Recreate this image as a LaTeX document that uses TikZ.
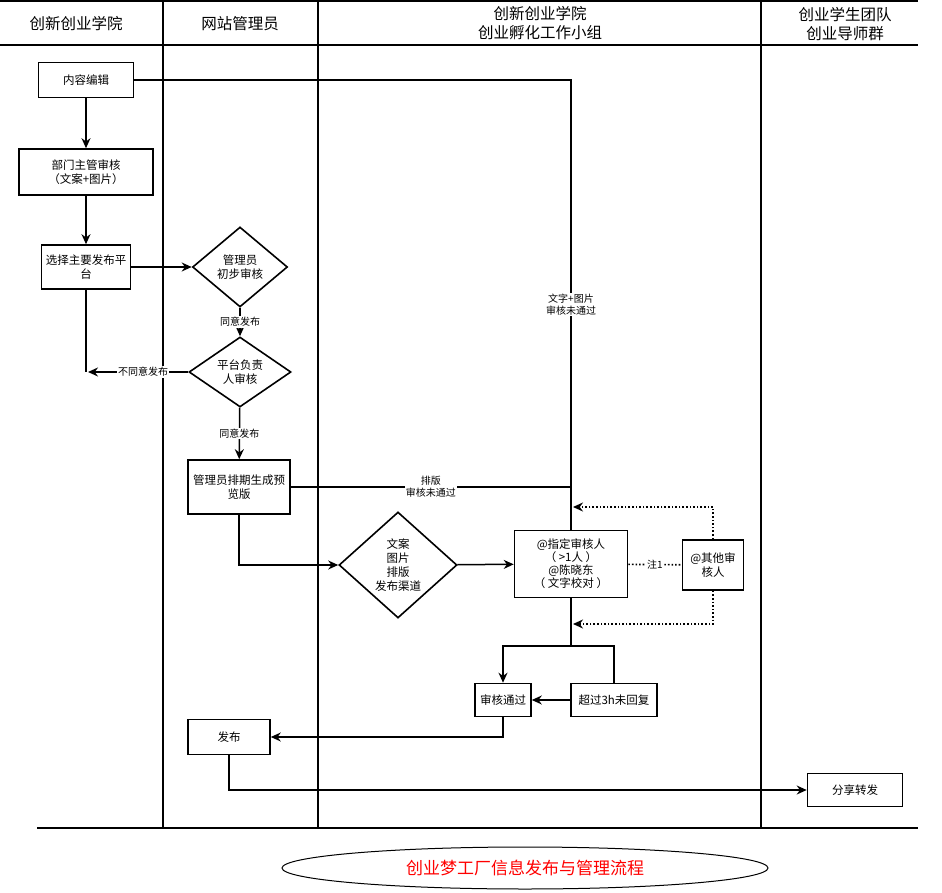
\documentclass[tikz,border=0pt]{standalone}
\usepackage{fontspec}
\setmainfont{Noto Sans CJK SC}
\usetikzlibrary{shapes.geometric,arrows.meta}
\begin{document}
\begin{tikzpicture}[x=1pt,y=-1pt,
  box/.style={draw,line width=1.6pt,align=center,font=\fontsize{11.5}{14}\selectfont,inner sep=1pt},
  dia/.style={draw,line width=1.6pt,diamond,aspect=1.2,align=center,font=\fontsize{11.5}{14}\selectfont,inner sep=0pt},
  ln/.style={line width=1.5pt},
  ar/.style={line width=1.5pt,-{Stealth[length=10pt,width=9pt]}},
  dar/.style={line width=1.6pt,dotted,-{Stealth[length=10pt,width=9pt]}},
  lab/.style={fill=white,font=\fontsize{10}{12}\selectfont,align=center,inner sep=1pt},
  hd/.style={font=\fontsize{15.5}{19}\selectfont,align=center}]
\useasboundingbox (0,0) rectangle (942,893);
% lanes
\draw[ln] (0,1) -- (918,1);
\draw[ln] (0,45) -- (918,45);
\draw[ln] (37,828) -- (918,828);
\foreach \x in {163,318,761} \draw[ln] (\x,0) -- (\x,828);
\node[hd] (h1) at (76,24) {创新创业学院};
\node[hd] (h2) at (240,24) {网站管理员};
\node[hd] (h3) at (540,23) {创新创业学院\\创业孵化工作小组};
\node[hd] (h4) at (845,24) {创业学生团队\\创业导师群};
% nodes
\node[box,minimum width=95pt,minimum height=35pt] (a) at (86,80) {内容编辑};
\node[box,minimum width=134pt,minimum height=46pt] (b) at (86,172) {部门主管审核\\（文案+图片）};
\node[box,minimum width=89pt,minimum height=44pt] (c) at (86,267) {选择主要发布平\\台};
\node[dia,minimum width=95pt,minimum height=80pt] (d1) at (240,267) {管理员\\初步审核};
\node[dia,minimum width=102pt,minimum height=70pt] (d2) at (240,372) {平台负责\\人审核};
\node[box,minimum width=102pt,minimum height=54pt] (e) at (239,487) {管理员排期生成预\\览版};
\node[dia,minimum width=118pt,minimum height=106pt] (d3) at (398,565) {文案\\图片\\排版\\发布渠道};
\node[box,minimum width=113pt,minimum height=67pt,font=\fontsize{11.5}{13}\selectfont] (f) at (571,564) {@指定审核人\\（ >1人 ）\\@陈晓东\\（ 文字校对 ）};
\node[box,minimum width=61pt,minimum height=50pt] (g) at (713,565) {@其他审\\核人};
\node[box,minimum width=56pt,minimum height=33pt] (h) at (503,700) {审核通过};
\node[box,minimum width=86pt,minimum height=33pt] (i) at (614,700) {超过3h未回复};
\node[box,minimum width=82pt,minimum height=35pt] (j) at (229,737) {发布};
\node[box,minimum width=95pt,minimum height=33pt] (k) at (855,790) {分享转发};
\node[draw,line width=1pt,ellipse,minimum width=486pt,minimum height=42pt,text=red,font=\fontsize{17}{20}\selectfont] (t) at (525,868) {创业梦工厂信息发布与管理流程};
% coordinates
\coordinate (left) at (88,372);
\coordinate (j1) at (571,80);
\coordinate (j2) at (571,487);
\coordinate (up) at (573,507);
\coordinate (dn) at (573,624);
\coordinate (sp) at (571,646);
% edges
\draw[ar] (a) -- (b);
\draw[ar] (b) -- (c);
\draw[ar] (c) -- (d1);
\draw[ar] (d1) -- node[lab]{同意发布} (d2);
\draw[ln] (c.south) -- (c.south |- left);
\draw[ar] (d2.west) -- node[lab,pos=0.45]{不同意发布} (left);
\draw[ar] (d2) -- node[lab]{同意发布} (e);
\draw[ar] (e.south) |- (d3.west);
\draw[ar] (d3) -- (f);
\draw[ln] (a.east) -- (j1) -- node[lab]{文字+图片\\审核未通过} (f.north);
\draw[ln] (e.east) -- node[lab]{排版\\审核未通过} (j2);
\draw[line width=1.6pt,dotted] (f) -- node[lab]{注1} (g);
\draw[dar] (g.north) |- (up);
\draw[dar] (g.south) |- (dn);
\draw[ln] (f.south) -- (sp);
\draw[ar] (sp) -| (h.north);
\draw[ln] (sp) -| (i.north);
\draw[ar] (i) -- (h);
\draw[ar] (h.south) |- (j.east);
\draw[ar] (j.south) |- (k.west);
\end{tikzpicture}
\end{document}
